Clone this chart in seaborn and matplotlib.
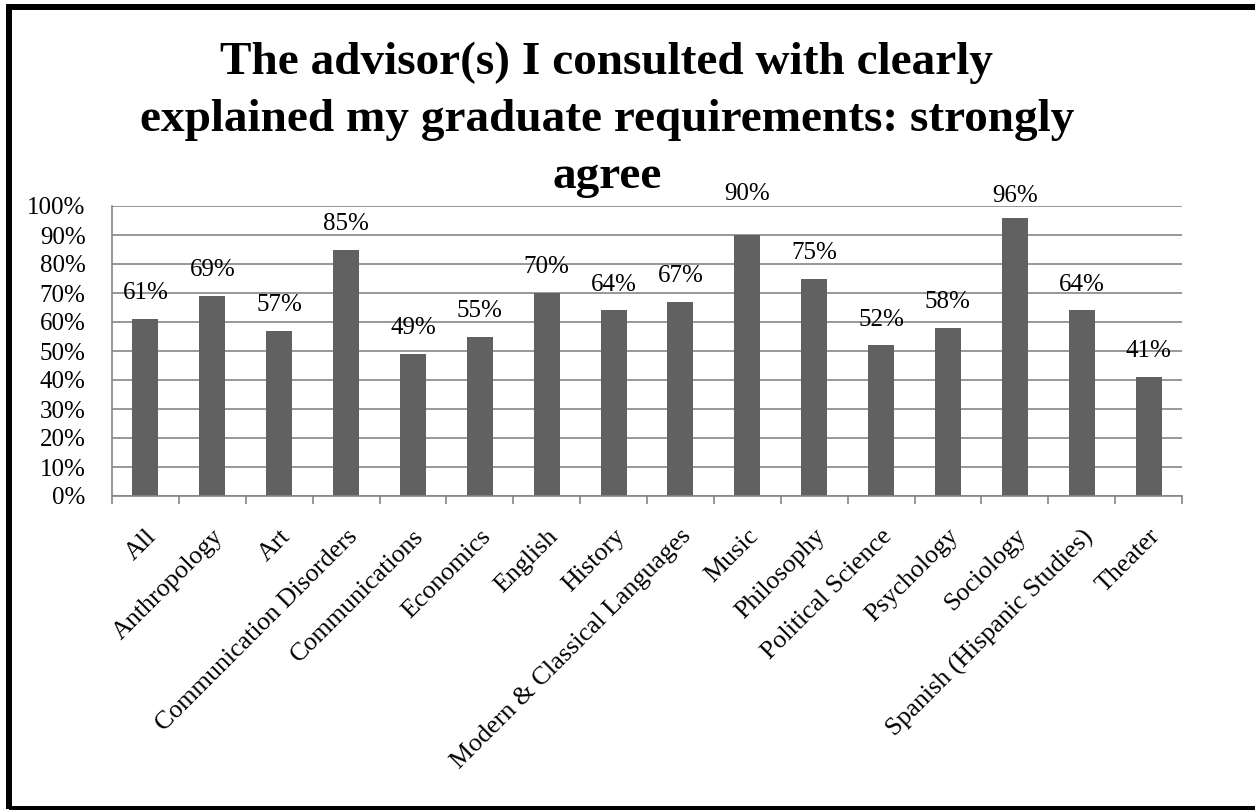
import matplotlib
matplotlib.use("Agg")
import matplotlib.pyplot as plt
import seaborn as sns
import pandas as pd
import numpy as np
from matplotlib.patches import Rectangle
from matplotlib.ticker import FixedLocator, PercentFormatter

# data
majors = ["All", "Anthropology", "Art", "Communication Disorders", "Communications",
          "Economics", "English", "History", "Modern & Classical Languages", "Music",
          "Philosophy", "Political Science", "Psychology", "Sociology",
          "Spanish (Hispanic Studies)", "Theater"]
strongly_agree = [61, 69, 57, 85, 49, 55, 70, 64, 67, 90, 75, 52, 58, 96, 64, 41]
y_ticks = list(range(0, 101, 10))

title_lines = ["The advisor(s) I consulted with clearly",
               "explained my graduate requirements: strongly",
               "agree"]

W, H = 1255, 810
bar_color = "#616161"
grid_color = "#868686"

sns.set_theme(style="white")
plt.rcParams["font.family"] = ["Liberation Serif", "DejaVu Serif"]
plt.rcParams["text.color"] = "black"

fig = plt.figure(figsize=(W / 100, H / 100), dpi=100)
ax = fig.add_axes([112 / W, (H - 496) / H, 1070 / W, 290 / H])

df = pd.DataFrame({"major": majors, "pct": strongly_agree})
sns.barplot(data=df, x="major", y="pct", color=bar_color, saturation=1,
            width=0.39, linewidth=0, ax=ax)

ax.set_xlim(-0.5, len(majors) - 0.5)
ax.set_ylim(0, 100)
ax.set_xlabel("")
ax.set_ylabel("")

ax.set_yticks(y_ticks)
ax.yaxis.set_major_formatter(PercentFormatter(decimals=0))
ax.yaxis.grid(True, color=grid_color, lw=1.2)
ax.set_axisbelow(True)
ax.tick_params(axis="y", length=0, pad=19, labelsize=18, labelcolor="black")

for side in ["top", "right"]:
    ax.spines[side].set_visible(False)
for side in ["left", "bottom"]:
    ax.spines[side].set_color(grid_color)
    ax.spines[side].set_linewidth(1.2)

# tick marks between categories, labels at the bar centres
ax.xaxis.set_minor_locator(FixedLocator(np.arange(-0.5, len(majors), 1)))
ax.tick_params(axis="x", which="minor", bottom=True, length=6, width=1.2,
               color=grid_color, direction="out")
ax.tick_params(axis="x", which="major", length=0, pad=21, labelsize=18.7,
               labelcolor="black")
for lbl in ax.get_xticklabels():
    lbl.set_rotation(45)
    lbl.set_ha("right")
    lbl.set_va("top")
    lbl.set_rotation_mode("anchor")

# value labels above bars
label_nudge = {"Music": 11, "Sociology": -3}
for i, (m, v) in enumerate(zip(majors, strongly_agree)):
    ax.annotate(f"{v}%", (i, v), xytext=(0, 18.5 + label_nudge.get(m, 0)),
                textcoords="offset points", ha="center", va="center",
                fontsize=18, color="black", annotation_clip=False)

# title, one text per line (Excel-style wrapped title)
for k, line in enumerate(title_lines):
    fig.text(607 / W, 1 - (63 + 57 * k) / H, line, ha="center", va="center",
             color="black", fontsize=34, fontweight="bold")

# black chart frame (right edge falls outside the image)
frame = Rectangle((9 / W, 1 / H), 1265 / W, 802.5 / H, transform=fig.transFigure,
                  fill=False, edgecolor="black", lw=4.3, clip_on=False)
fig.add_artist(frame)

fig.savefig("out.png", dpi=100)
